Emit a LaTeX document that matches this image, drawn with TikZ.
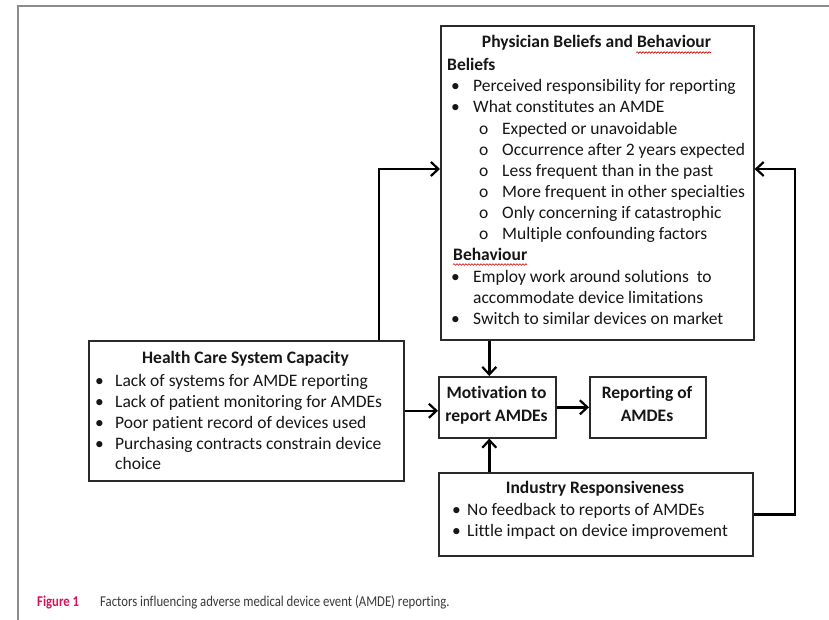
\documentclass[tikz,border=0pt]{standalone}
\usepackage{fontspec}
\setmainfont{Carlito}[Ligatures=NoCommon]
\newfontfamily\capfont[FakeStretch=0.85,Ligatures=NoCommon]{Carlito}
\usetikzlibrary{arrows.meta,decorations.pathmorphing}
\definecolor{ink}{HTML}{161616}
\definecolor{edge}{HTML}{2A2A2A}
\definecolor{frame}{HTML}{8C8C8C}
\definecolor{figred}{HTML}{D4145A}
\newcommand\bodyfont{\fontsize{17.5}{20}\selectfont}
\newcommand\blt{\makebox[22pt][l]{\textbullet}}
\newcommand\sblt{\makebox[23pt][l]{o}}
\begin{document}
\begin{tikzpicture}[x=1pt,y=-1pt,
  box/.style={draw=edge, line width=1.6pt, fill=white, inner sep=0pt},
  txt/.style={anchor=base west, inner sep=0pt, text=ink, font=\bodyfont},
  ctxt/.style={anchor=base, inner sep=0pt, text=ink, font=\bodyfont\bfseries},
  conn/.style={draw=black, line width=2.6pt, line join=miter,
    -{Straight Barb[length=7.5pt,width=14pt,line width=2.2pt]}},
  squiggle/.style={draw=red!80!black, line width=0.6pt,
    decorate, decoration={snake, amplitude=0.8pt, segment length=3pt}}]
\useasboundingbox (0,0) rectangle (829,620);
\fill[white] (0,0) rectangle (829,620);
% outer frame
\draw[frame, line width=2pt] (18,620) -- (18,6) -- (829,6);

% boxes
\node[box, minimum width=313pt, minimum height=314pt, anchor=north west] (phys) at (440,25) {};
\node[box, minimum width=315pt, minimum height=140pt, anchor=north west] (hcs) at (88,340) {};
\node[box, minimum width=117pt, minimum height=61pt, anchor=north west] (mot) at (438,376) {};
\node[box, minimum width=116pt, minimum height=61pt, anchor=north west] (rep) at (589,376) {};
\node[box, minimum width=314pt, minimum height=83pt, anchor=north west] (ind) at (438,472) {};

% physician beliefs and behaviour
\node[ctxt] (pTitle) at (596.5,48) {Physician Beliefs and Behaviour};
\node[txt, font=\bodyfont\bfseries] (pBel) at (447,71) {Beliefs};
\node[txt] (pB1) at (451,92) {\blt Perceived responsibility for reporting};
\node[txt] (pB2) at (451,113) {\blt What constitutes an AMDE};
\node[txt] (pS1) at (479,134.5) {\sblt Expected or unavoidable};
\node[txt] (pS2) at (479,155.5) {\sblt Occurrence after 2 years expected};
\node[txt] (pS3) at (479,176.5) {\sblt Less frequent than in the past};
\node[txt] (pS4) at (479,197.5) {\sblt More frequent in other specialties};
\node[txt] (pS5) at (479,218.5) {\sblt Only concerning if catastrophic};
\node[txt] (pS6) at (479,239.5) {\sblt Multiple confounding factors};
\node[txt, font=\bodyfont\bfseries] (pBeh) at (453,261) {Behaviour};
\node[txt] (pH1) at (451,282.5) {\blt Employ work around solutions\ \ to};
\node[txt] (pH1b) at (473,303.5) {accommodate device limitations};
\node[txt] (pH2) at (451,324.5) {\blt Switch to similar devices on market};
\draw[squiggle] (pTitle.base east) ++(-75,4.5) -- ++(75,0);
\draw[squiggle] (pBeh.base west) ++(0,3.5) -- ++(74,0);

% health care system capacity
\node[ctxt] (hTitle) at (245.5,363) {Health Care System Capacity};
\node[txt] (h1) at (95,386.7) {\makebox[20pt][l]{\textbullet}Lack of systems for AMDE reporting};
\node[txt] (h2) at (95,407.7) {\makebox[20pt][l]{\textbullet}Lack of patient monitoring for AMDEs};
\node[txt] (h3) at (95,428.7) {\makebox[20pt][l]{\textbullet}Poor patient record of devices used};
\node[txt] (h4) at (95,449.3) {\makebox[20pt][l]{\textbullet}Purchasing contracts constrain device};
\node[txt] (h4b) at (115,469) {choice};

% motivation and reporting
\node[ctxt] (m1) at (496.5,398.5) {Motivation to};
\node[ctxt] (m2) at (496.5,421.5) {report AMDEs};
\node[ctxt] (r1) at (647,398.5) {Reporting of};
\node[ctxt] (r2) at (647,421.5) {AMDEs};

% industry responsiveness
\node[ctxt] (iTitle) at (595,493.5) {Industry Responsiveness};
\node[txt] (i1) at (452,515) {\makebox[15pt][l]{\textbullet}No feedback to reports of AMDEs};
\node[txt] (i2) at (452,536) {\makebox[15pt][l]{\textbullet}Little impact\ on device improvement};

% connectors
\coordinate (leftBend) at (379,169);
\coordinate (rightBend) at (795,169);
\draw[conn] (hcs.north -| leftBend) |- (phys.west |- leftBend);
\draw[conn] (ind.east) -| (rightBend) -- (phys.east |- rightBend);
\draw[conn] ([xshift=-8pt]mot.north |- phys.south) -- ([xshift=-8pt]mot.north);
\draw[conn] (hcs.east) -- (hcs.east -| mot.west);
\draw[conn] (mot.east) -- (rep.west);
\draw[conn] ([xshift=-8pt]mot.south |- ind.north) -- ([xshift=-8pt]mot.south);

% caption
\node[anchor=base west, inner sep=0pt, text=figred, font=\capfont\fontsize{15}{18}\selectfont\bfseries] (figNo) at (37,606) {Figure 1};
\node[anchor=base west, inner sep=0pt, text=ink!85, font=\capfont\fontsize{15}{18}\selectfont] (figCap) at (100,606) {Factors influencing adverse medical device event (AMDE) reporting.};
\end{tikzpicture}
\end{document}
